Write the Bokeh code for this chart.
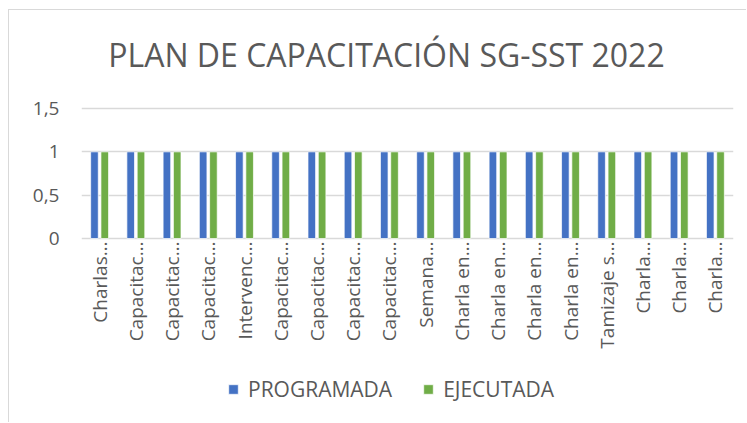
import math
from bokeh.plotting import figure
from bokeh.models import (ColumnDataSource, Range1d, FixedTicker, Legend, LegendItem, Label)
from bokeh.transform import dodge
from bokeh.core.properties import value
from bokeh.embed import file_html
from bokeh.resources import INLINE

title_text = "PLAN DE CAPACITACIÓN SG-SST 2022"
categories = ["Charlas…", "Capacitac…", "Capacitac…", "Capacitac…", "Intervenc…",
              "Capacitac…", "Capacitac…", "Capacitac…", "Capacitac…", "Semana…",
              "Charla en…", "Charla en…", "Charla en…", "Charla en…", "Tamizaje s…",
              "Charla…", "Charla…", "Charla…"]
programada = [1, 1, 1, 1, 1, 1, 1, 1, 1, 1, 1, 1, 1, 1, 1, 1, 1, 1]
ejecutada = [1, 1, 1, 1, 1, 1, 1, 1, 1, 1, 1, 1, 1, 1, 1, 1, 1, 1]
series_names = ["PROGRAMADA", "EJECUTADA"]
y_ticks = [0, 0.5, 1, 1.5]
y_tick_labels = ["0", "0,5", "1", "1,5"]

FONT = "Open Sans"
TXT = "#595959"
GRID = "#D9D9D9"

pos = list(range(len(categories)))
src = ColumnDataSource(dict(x=pos, prog=programada, ejec=ejecutada,
                            base=[0] * len(pos), cat=categories))

# the frame spans the whole chart height so the title, category labels and legend live in it
p = figure(width=738, height=413, output_backend="svg", toolbar_location=None,
           x_range=Range1d(-0.5, len(categories) - 0.5), y_range=Range1d(-1.927, 2.631),
           min_border_left=72, min_border_right=14, min_border_top=0, min_border_bottom=18)
p.styles = {"margin-left": "8px", "margin-top": "9px",
            "border-left": "1px solid #D9D9D9", "border-top": "1px solid #D9D9D9"}
p.outline_line_color = None

r1 = p.vbar(x=dodge("x", -0.142, range=p.x_range), top="prog", width=0.21, source=src,
            fill_color="#4472C4", line_color="white", line_width=0.7)
r2 = p.vbar(x=dodge("x", 0.142, range=p.x_range), top="ejec", width=0.21, source=src,
            fill_color="#70AD47", line_color="white", line_width=0.7)

# category labels, rotated, hanging below the zero line
p.text(x="x", y=dodge("base", -0.035, range=p.y_range), text="cat", source=src,
       angle=math.pi / 2, text_align="right", text_baseline="middle",
       text_font=value(FONT), text_font_size="19px", text_color=TXT)

# chart title
p.add_layout(Label(x=7.92, y=2.123, text=title_text, text_align="center",
                   text_baseline="middle", text_font=FONT, text_font_size="32px",
                   text_color=TXT))

p.xaxis.visible = False

p.yaxis.ticker = FixedTicker(ticks=y_ticks)
p.yaxis.major_label_overrides = {t: l for t, l in zip(y_ticks, y_tick_labels)}
p.yaxis.axis_line_color = None
p.yaxis.major_tick_line_color = None
p.yaxis.minor_tick_line_color = None
p.yaxis.major_label_text_color = TXT
p.yaxis.major_label_text_font = FONT
p.yaxis.major_label_text_font_size = "19px"
p.yaxis.major_label_standoff = 16

p.xgrid.grid_line_color = None
p.ygrid.ticker = FixedTicker(ticks=y_ticks)
p.ygrid.grid_line_color = GRID
p.ygrid.grid_line_width = 1.5

legend = Legend(items=[LegendItem(label=series_names[0], renderers=[r1]),
                       LegendItem(label=series_names[1], renderers=[r2])],
                orientation="horizontal", location=(146, 2),
                glyph_width=12, glyph_height=12, label_standoff=9, spacing=30,
                padding=0, margin=0, border_line_color=None, background_fill_alpha=0,
                label_text_font=FONT, label_text_font_size="21px", label_text_color=TXT)
p.add_layout(legend, "center")

open("out.html", "w").write(file_html(p, INLINE))
